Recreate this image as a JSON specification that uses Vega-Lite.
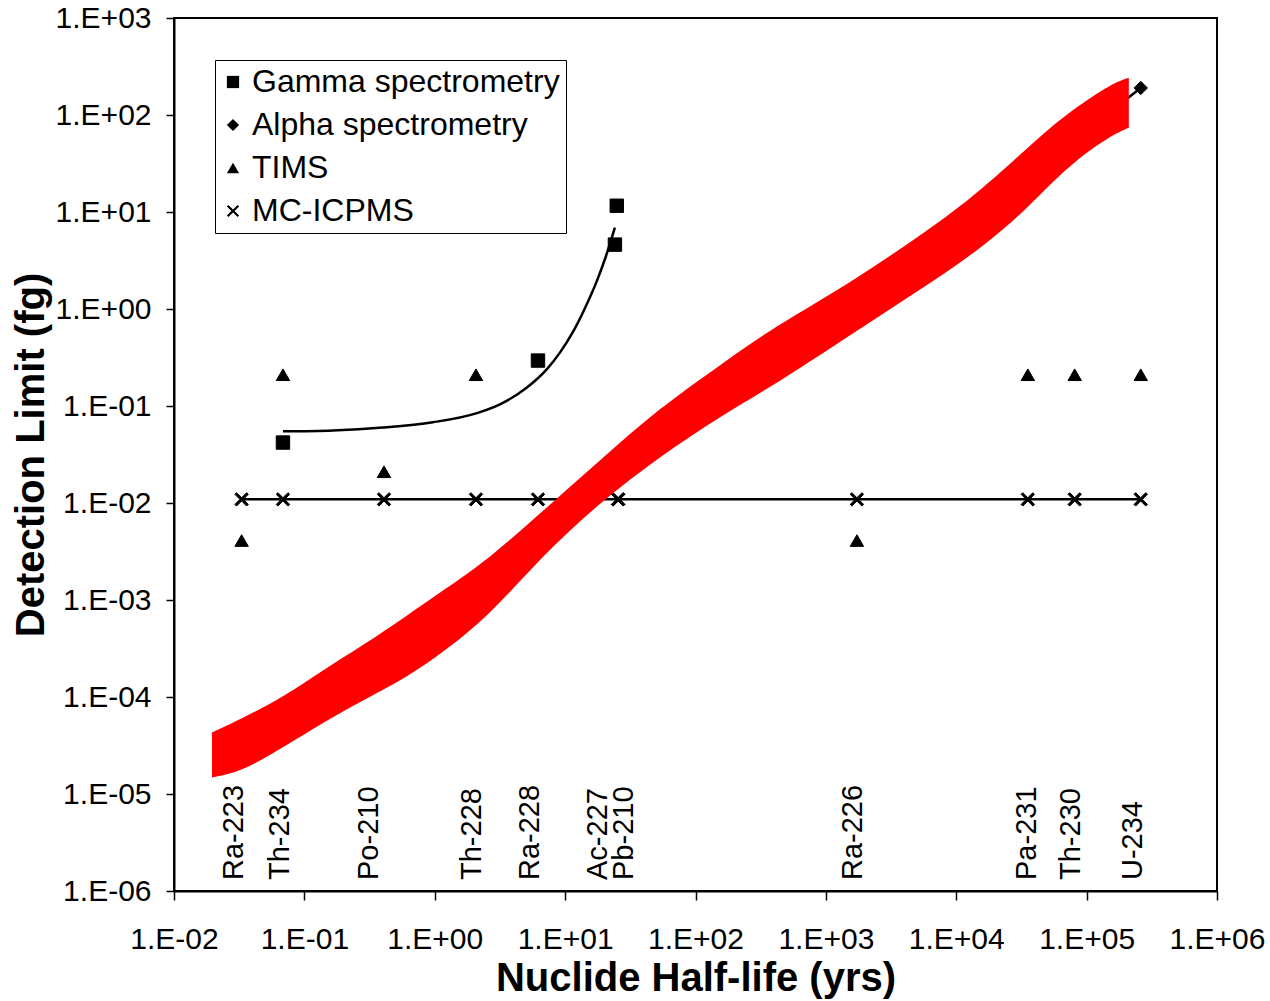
{
  "$schema": "https://vega.github.io/schema/vega-lite/v6.json",
  "width": 1043,
  "height": 873,
  "autosize": {"type": "none"},
  "padding": {"left": 174, "top": 18, "right": 53, "bottom": 110},
  "background": "white",
  "datasets": {
    "pts": [
      {"method": "Gamma spectrometry", "nuclide": "Th-234", "hl": 0.0685, "dl": 0.042},
      {"method": "Gamma spectrometry", "nuclide": "Ra-228", "hl": 6.19, "dl": 0.294},
      {"method": "Gamma spectrometry", "nuclide": "Ac-227", "hl": 24.1, "dl": 4.61},
      {"method": "Gamma spectrometry", "nuclide": "Pb-210", "hl": 24.9, "dl": 11.6},
      {"method": "Alpha spectrometry", "nuclide": "Th-230", "hl": 81000, "dl": 56},
      {"method": "Alpha spectrometry", "nuclide": "U-234", "hl": 260000, "dl": 190},
      {"method": "TIMS", "nuclide": "Ra-223", "hl": 0.033, "dl": 0.0041},
      {"method": "TIMS", "nuclide": "Th-234", "hl": 0.0685, "dl": 0.21},
      {"method": "TIMS", "nuclide": "Po-210", "hl": 0.408, "dl": 0.021},
      {"method": "TIMS", "nuclide": "Th-228", "hl": 2.07, "dl": 0.21},
      {"method": "TIMS", "nuclide": "Ra-226", "hl": 1730, "dl": 0.0041},
      {"method": "TIMS", "nuclide": "Pa-231", "hl": 35400, "dl": 0.21},
      {"method": "TIMS", "nuclide": "Th-230", "hl": 81000, "dl": 0.21},
      {"method": "TIMS", "nuclide": "U-234", "hl": 260000, "dl": 0.21},
      {"method": "MC-ICPMS", "nuclide": "Ra-223", "hl": 0.033, "dl": 0.0109},
      {"method": "MC-ICPMS", "nuclide": "Th-234", "hl": 0.0685, "dl": 0.0109},
      {"method": "MC-ICPMS", "nuclide": "Po-210", "hl": 0.408, "dl": 0.0109},
      {"method": "MC-ICPMS", "nuclide": "Th-228", "hl": 2.07, "dl": 0.0109},
      {"method": "MC-ICPMS", "nuclide": "Ra-228", "hl": 6.19, "dl": 0.0109},
      {"method": "MC-ICPMS", "nuclide": "Ac-227", "hl": 25.5, "dl": 0.0109},
      {"method": "MC-ICPMS", "nuclide": "Pb-210", "hl": 25.5, "dl": 0.0109},
      {"method": "MC-ICPMS", "nuclide": "Ra-226", "hl": 1730, "dl": 0.0109},
      {"method": "MC-ICPMS", "nuclide": "Pa-231", "hl": 35400, "dl": 0.0109},
      {"method": "MC-ICPMS", "nuclide": "Th-230", "hl": 81000, "dl": 0.0109},
      {"method": "MC-ICPMS", "nuclide": "U-234", "hl": 260000, "dl": 0.0109}
    ],
    "gcurve": [
      {"hl": 0.0685, "dl": 0.0548},
      {"hl": 0.1657, "dl": 0.056},
      {"hl": 0.4006, "dl": 0.06},
      {"hl": 0.9687, "dl": 0.068},
      {"hl": 2.107, "dl": 0.0845},
      {"hl": 3.162, "dl": 0.104},
      {"hl": 5.094, "dl": 0.155},
      {"hl": 7.252, "dl": 0.24},
      {"hl": 9.124, "dl": 0.355},
      {"hl": 11.48, "dl": 0.58},
      {"hl": 14.19, "dl": 1.02},
      {"hl": 17.53, "dl": 1.95},
      {"hl": 20.56, "dl": 3.5},
      {"hl": 24.09, "dl": 6.9}
    ],
    "red": [
      {"hl": 0.01956, "hi": 4.315e-5, "lo": 1.483e-5},
      {"hl": 0.03207, "hi": 5.875e-5, "lo": 1.671e-5},
      {"hl": 0.06852, "hi": 9.9e-5, "lo": 3.0e-5},
      {"hl": 0.1389, "hi": 1.9e-4, "lo": 5.47e-5},
      {"hl": 0.2813, "hi": 3.4e-4, "lo": 9.2e-5},
      {"hl": 0.6118, "hi": 6.9e-4, "lo": 1.6e-4},
      {"hl": 1.156, "hi": 1.254e-3, "lo": 2.877e-4},
      {"hl": 2.651, "hi": 2.7e-3, "lo": 7.0e-4},
      {"hl": 6.756, "hi": 8.3e-3, "lo": 2.9e-3},
      {"hl": 18.49, "hi": 2.742e-2, "lo": 1.012e-2},
      {"hl": 53.33, "hi": 9.64e-2, "lo": 3.013e-2},
      {"hl": 153.9, "hi": 0.2612, "lo": 0.0778},
      {"hl": 352.8, "hi": 0.5848, "lo": 0.1479},
      {"hl": 1131, "hi": 1.442, "lo": 0.4102},
      {"hl": 3694, "hi": 4.094, "lo": 1.164},
      {"hl": 10657, "hi": 11.0, "lo": 2.9},
      {"hl": 29150, "hi": 36.0, "lo": 8.5},
      {"hl": 49530, "hi": 70.0, "lo": 18.0},
      {"hl": 88690, "hi": 127.8, "lo": 37.0},
      {"hl": 150650, "hi": 205.0, "lo": 60.0},
      {"hl": 210650, "hi": 242.6, "lo": 74.1}
    ],
    "nuclides": [
      {"nuclide": "Ra-223", "hl": 0.0288},
      {"nuclide": "Th-234", "hl": 0.065},
      {"nuclide": "Po-210", "hl": 0.313},
      {"nuclide": "Th-228", "hl": 1.929},
      {"nuclide": "Ra-228", "hl": 5.37},
      {"nuclide": "Ac-227", "hl": 17.84},
      {"nuclide": "Pb-210", "hl": 28.25},
      {"nuclide": "Ra-226", "hl": 1611},
      {"nuclide": "Pa-231", "hl": 34760},
      {"nuclide": "Th-230", "hl": 75680},
      {"nuclide": "U-234", "hl": 226000}
    ]
  },
  "layer": [
    {
      "data": {"name": "pts"},
      "transform": [{"filter": "datum.method == 'MC-ICPMS'"}],
      "mark": {"type": "line", "color": "black", "strokeWidth": 2.5},
      "encoding": {
        "x": {
          "field": "hl", "type": "quantitative", "title": "Nuclide Half-life (yrs)",
          "scale": {"type": "log", "domain": [0.01, 1000000], "nice": false, "zero": false},
          "axis": {
            "values": [0.01, 0.1, 1, 10, 100, 1000, 10000, 100000, 1000000],
            "labelExpr": "'1.E' + (round(log(datum.value)/LN10) < 0 ? '-' : '+') + (abs(round(log(datum.value)/LN10)) < 10 ? '0' : '') + abs(round(log(datum.value)/LN10))"
          }
        },
        "y": {
          "field": "dl", "type": "quantitative", "title": "Detection Limit (fg)",
          "scale": {"type": "log", "domain": [0.000001, 1000], "nice": false, "zero": false},
          "axis": {
            "values": [0.000001, 0.00001, 0.0001, 0.001, 0.01, 0.1, 1, 10, 100, 1000],
            "labelExpr": "'1.E' + (round(log(datum.value)/LN10) < 0 ? '-' : '+') + (abs(round(log(datum.value)/LN10)) < 10 ? '0' : '') + abs(round(log(datum.value)/LN10))"
          }
        },
        "order": {"field": "hl", "type": "quantitative"}
      }
    },
    {
      "data": {"name": "pts"},
      "transform": [{"filter": "datum.method == 'Alpha spectrometry'"}],
      "mark": {"type": "line", "color": "black", "strokeWidth": 2.5},
      "encoding": {
        "x": {"field": "hl", "type": "quantitative", "title": "Nuclide Half-life (yrs)"},
        "y": {"field": "dl", "type": "quantitative", "title": "Detection Limit (fg)"},
        "order": {"field": "hl", "type": "quantitative"}
      }
    },
    {
      "data": {"name": "gcurve"},
      "mark": {"type": "line", "color": "black", "strokeWidth": 2.5, "interpolate": "monotone"},
      "encoding": {
        "x": {"field": "hl", "type": "quantitative", "title": "Nuclide Half-life (yrs)"},
        "y": {"field": "dl", "type": "quantitative", "title": "Detection Limit (fg)"},
        "order": {"field": "hl", "type": "quantitative"}
      }
    },
    {
      "data": {"name": "pts"},
      "mark": {"type": "point", "filled": true, "fill": "black", "stroke": "black", "strokeWidth": 1, "opacity": 1, "size": 180},
      "encoding": {
        "x": {"field": "hl", "type": "quantitative", "title": "Nuclide Half-life (yrs)"},
        "y": {"field": "dl", "type": "quantitative", "title": "Detection Limit (fg)"},
        "shape": {
          "field": "method", "type": "nominal",
          "scale": {
            "domain": ["Gamma spectrometry", "Alpha spectrometry", "TIMS", "MC-ICPMS"],
            "range": ["square", "diamond", "triangle-up", "M-1,-0.75L-0.75,-1L0,-0.25L0.75,-1L1,-0.75L0.25,0L1,0.75L0.75,1L0,0.25L-0.75,1L-1,0.75L-0.25,0Z"]
          },
          "legend": {
            "orient": "none", "legendX": 41, "legendY": 42, "title": null,
            "strokeColor": "black", "fillColor": "white", "padding": 6,
            "labelFontSize": 32, "labelFont": "Liberation Sans", "labelColor": "black", "labelLimit": 600,
            "symbolSize": 150, "symbolFillColor": "black", "symbolStrokeColor": "black",
            "symbolStrokeWidth": 1, "symbolOpacity": 1, "rowPadding": 11, "labelOffset": 3, "symbolOffset": -4
          }
        }
      }
    },
    {
      "data": {"name": "red"},
      "mark": {"type": "area", "color": "#ff0000", "opacity": 1, "interpolate": "basis"},
      "encoding": {
        "x": {"field": "hl", "type": "quantitative", "title": "Nuclide Half-life (yrs)"},
        "y": {"field": "hi", "type": "quantitative", "title": "Detection Limit (fg)"},
        "y2": {"field": "lo"}
      }
    },
    {
      "data": {"name": "nuclides"},
      "mark": {"type": "text", "angle": 270, "align": "left", "baseline": "middle", "dx": 11, "fontSize": 29, "font": "Liberation Sans", "fill": "black"},
      "encoding": {
        "x": {"field": "hl", "type": "quantitative", "title": "Nuclide Half-life (yrs)"},
        "y": {"datum": 0.000001},
        "text": {"field": "nuclide"}
      }
    }
  ],
  "config": {
    "font": "Liberation Sans",
    "view": {"stroke": "black", "strokeWidth": 2},
    "axis": {
      "grid": false, "domainColor": "black", "domainWidth": 2, "tickColor": "black", "tickWidth": 1.5,
      "labelColor": "black", "titleColor": "black", "labelFont": "Liberation Sans", "titleFont": "Liberation Sans",
      "labelFontSize": 30, "titleFontSize": 40, "titleFontWeight": "bold", "labelFlush": false, "labelOverlap": false
    },
    "axisX": {"tickSize": 9, "labelPadding": 24, "titlePadding": 4},
    "axisY": {"tickSize": 8, "labelPadding": 15, "titlePadding": 4}
  }
}
